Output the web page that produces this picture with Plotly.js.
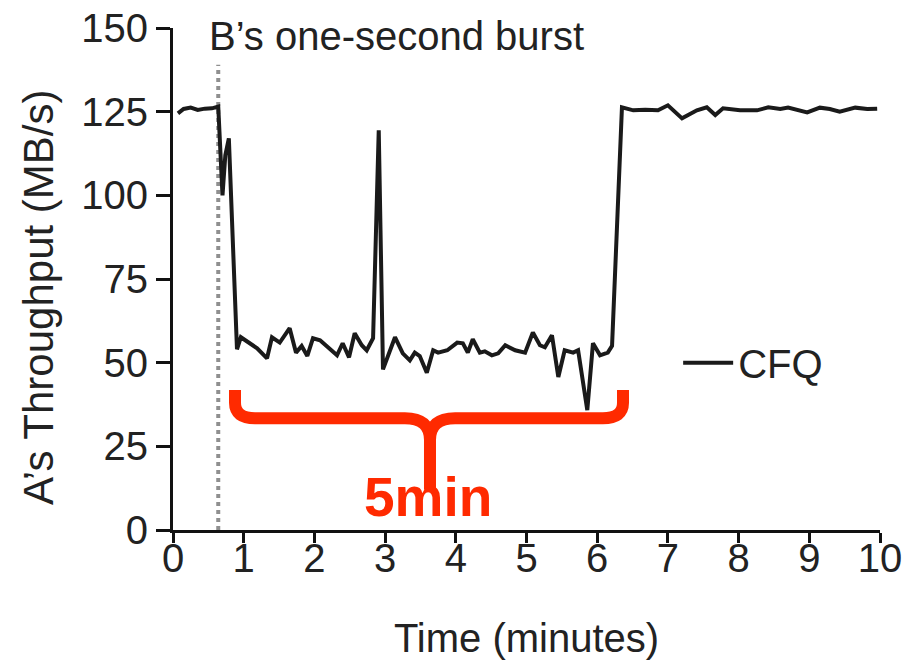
<!DOCTYPE html>
<html>
<head>
<meta charset="utf-8">
<script src="https://cdn.plot.ly/plotly-3.0.1.min.js"></script>
<style>html,body{margin:0;padding:0;background:#fff;}#chart{width:921px;height:661px;}</style>
</head>
<body>
<div id="chart"></div>
<script>
// Time in minutes
var timeMin = [0.07,0.15,0.25,0.35,0.45,0.55,0.64,0.70,0.74,0.79,0.905,0.96,1.19,1.33,1.40,1.51,1.65,1.74,1.82,1.90,1.98,2.08,2.32,2.40,2.49,2.57,2.67,2.74,2.83,2.91,2.97,3.14,3.25,3.35,3.42,3.49,3.59,3.68,3.75,3.88,4.02,4.10,4.17,4.24,4.34,4.41,4.51,4.60,4.70,4.84,4.98,5.09,5.19,5.26,5.36,5.45,5.54,5.66,5.73,5.86,5.94,6.04,6.15,6.21,6.35,6.51,6.68,6.86,7.00,7.20,7.41,7.55,7.67,7.78,8.02,8.26,8.42,8.59,8.70,8.97,9.15,9.29,9.43,9.65,9.82,9.96];
// A's throughput (MB/s) under CFQ
var cfqThroughput = [124.5,125.8,126.2,125.5,125.9,126.0,126.5,100,112,117,54,57.6,54.3,51.3,57.6,56,60.3,53,55,52,57.3,56.7,52.2,55.8,51.6,58.8,55.2,53.7,57.3,119.4,48,57.6,52.8,50.7,53,52,47,53.7,53,53.7,56,55.8,53,57,53,53.4,52.2,52.8,55.2,53.7,53,59,55.2,54.6,58.2,45.7,53.7,53,53.7,35.8,55.8,52.2,53,55,126.3,125.4,125.6,125.4,126.9,123,125.4,126.3,124,126,125.4,125.4,126.3,125.8,126.2,124.8,126.2,125.8,125,126.2,125.8,125.9];
var xTicks = [0,1,2,3,4,5,6,7,8,9,10];
var yTicks = [0,25,50,75,100,125,150];
var burstTime = [0.64];
var seriesName = 'CFQ';

var font = 'Liberation Sans, Arial, sans-serif';
var txt = '#222';

var trace = {
  x: timeMin, y: cfqThroughput, type: 'scatter', mode: 'lines', name: seriesName,
  line: {color: '#1a1a1a', width: 4}
};

var layout = {
  width: 921, height: 661,
  margin: {l: 173, r: 41, t: 28, b: 131},
  paper_bgcolor: '#fff', plot_bgcolor: '#fff',
  font: {family: font, color: txt, size: 40},
  showlegend: true,
  legend: {x: 0.7145, y: 0.333, xanchor: 'left', yanchor: 'middle', itemwidth: 50,
           font: {size: 40, color: txt, family: font}, bgcolor: 'rgba(0,0,0,0)', borderwidth: 0},
  xaxis: {
    range: [0, 10], tickvals: xTicks, ticktext: xTicks.map(String),
    showgrid: false, zeroline: false, showline: true, linecolor: '#111', linewidth: 3,
    ticks: 'outside', ticklen: 10, tickwidth: 3, tickcolor: '#111', ticklabelstandoff: -19,
    tickfont: {size: 40, family: font, color: txt},
    title: {text: 'Time (minutes)', font: {size: 40, family: font, color: txt}, standoff: 45}
  },
  yaxis: {
    range: [0, 150], tickvals: yTicks, ticktext: yTicks.map(String),
    showgrid: false, zeroline: false, showline: true, linecolor: '#111', linewidth: 3,
    ticks: 'outside', ticklen: 14, tickwidth: 3, tickcolor: '#111',
    tickfont: {size: 40, family: font, color: txt}
  },
  shapes: [
    {type: 'line', xref: 'x', yref: 'y', x0: burstTime[0], x1: burstTime[0], y0: 0, y1: 139,
     line: {color: '#8f8f8f', width: 4, dash: 'dot'}, layer: 'below'},
    {type: 'path', xref: 'x', yref: 'y',
     path: 'M 0.877,41.8 L 0.877,38 Q 0.877,33.4 1.16,33.4 L 3.28,33.4 Q 3.635,33.4 3.635,26.9 L 3.635,12 ' +
           'M 3.635,26.9 Q 3.635,33.4 3.99,33.4 L 6.08,33.4 Q 6.365,33.4 6.365,38 L 6.365,41.8',
     line: {color: '#ff2a00', width: 12}, fillcolor: 'rgba(0,0,0,0)'}
  ],
  annotations: [
    {xref: 'x', yref: 'y', x: 0.48, y: 147.5, xanchor: 'left', yanchor: 'middle', showarrow: false,
     text: 'B’s one-second burst', font: {size: 40, family: font, color: txt}},
    {xref: 'x', yref: 'y', x: 3.61, y: 9.8, xanchor: 'center', yanchor: 'middle', showarrow: false,
     text: '<b>5min</b>', font: {size: 55, family: font, color: '#ff2a00'}},
    {xref: 'paper', yref: 'paper', x: -0.191, y: 0.464, xanchor: 'center', yanchor: 'middle', showarrow: false,
     textangle: -90, text: 'A’s Throughput (MB/s)', font: {size: 42, family: font, color: txt}}
  ]
};

Plotly.newPlot('chart', [trace], layout, {displayModeBar: false, staticPlot: true});
</script>
</body>
</html>
